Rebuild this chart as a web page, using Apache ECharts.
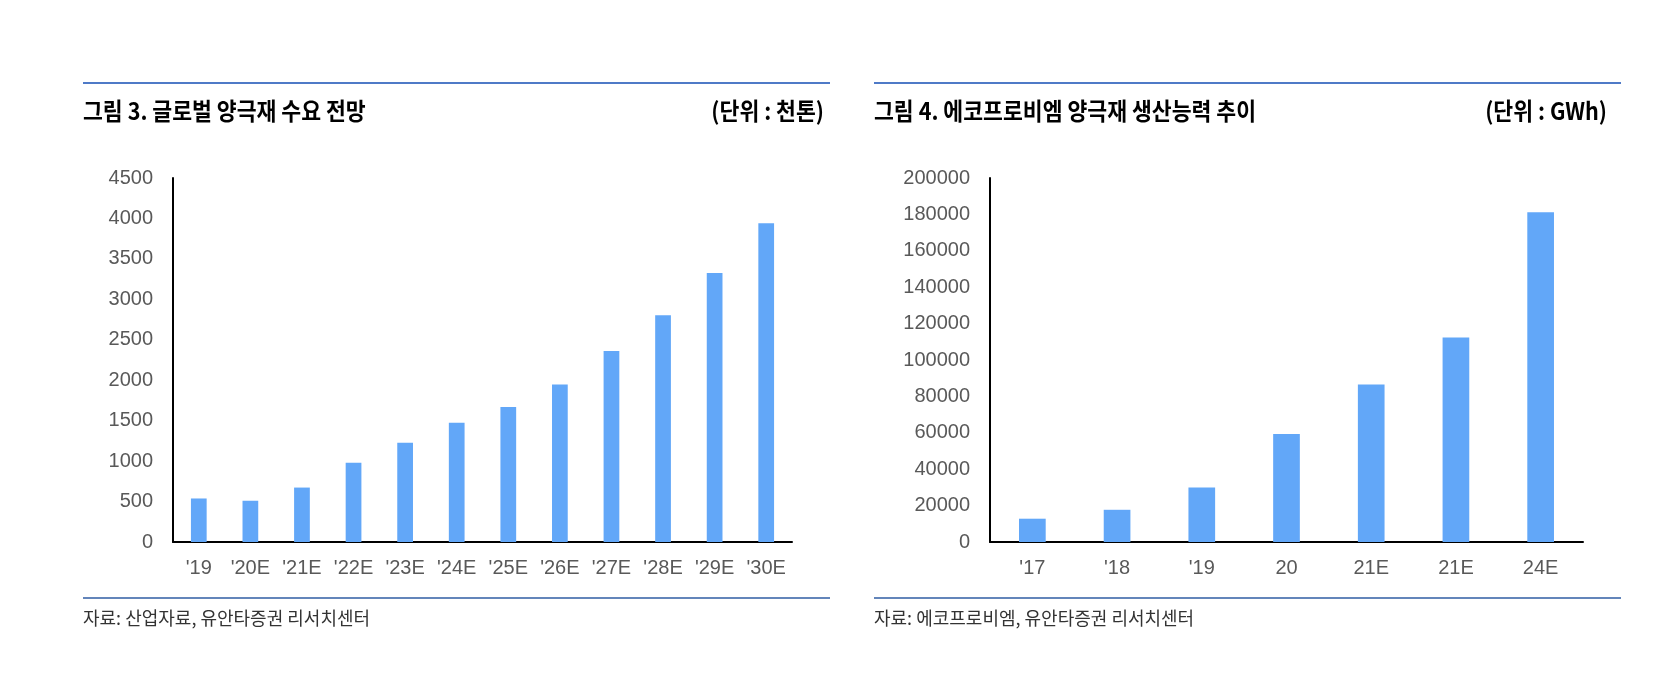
<!DOCTYPE html>
<html>
<head>
<meta charset="utf-8">
<script src="https://cdn.jsdelivr.net/npm/echarts@6/dist/echarts.min.js"></script>
<style>
  html, body { margin: 0; padding: 0; background: #fff; }
  #chart { width: 1672px; height: 686px; }
</style>
</head>
<body>
<div id="chart"></div>
<script>
// 그림 3. 글로벌 양극재 수요 전망 (천톤)
let demandYears = ["'19", "'20E", "'21E", "'22E", "'23E", "'24E", "'25E", "'26E", "'27E", "'28E", "'29E", "'30E"]
let demandValues = [538, 510, 673, 980, 1226, 1475, 1668, 1947, 2360, 2802, 3326, 3941]

// 그림 4. 에코프로비엠 양극재 생산능력 추이 (GWh)
let capaYears = ["'17", "'18", "'19", '20', '21E', '21E', '24E']
let capaValues = [12800, 17700, 30000, 59400, 86500, 112400, 181200]

let barColor = '#62a7f8'
let labelFont = '"Liberation Sans", Arial, sans-serif'
let krFont = '"Noto Sans CJK KR", sans-serif'

let chart = echarts.init(document.getElementById('chart'))

function textEl(x, y, text, opt) {
  opt = opt || {}
  return {
    type: 'text',
    x: x,
    y: y,
    scaleX: opt.scaleX || 1,
    style: {
      text: text,
      font: opt.font,
      fill: opt.fill || '#000',
      textAlign: opt.align || 'left',
      textVerticalAlign: 'middle'
    }
  }
}

function lineEl(x1, x2, y, color) {
  return {
    type: 'line',
    shape: { x1: x1, y1: y, x2: x2, y2: y },
    style: { stroke: color, lineWidth: 2 }
  }
}

// 축 공통 스타일 (눈금선 없음, 천단위 콤마 없음)
let axisCommon = {
  axisLine: { show: true, onZero: false, lineStyle: { color: '#000', width: 2 } },
  axisTick: { show: false },
  splitLine: { show: false },
  axisLabel: { color: '#595959', fontSize: 20, fontFamily: labelFont }
}

function plainNum(v) {
  return String(v)
}

chart.setOption({
  animation: false,
  grid: [
    { left: 173, top: 178, width: 619, height: 364 },
    { left: 990, top: 178, width: 593, height: 364 }
  ],
  xAxis: [
    Object.assign({}, axisCommon, {
      type: 'category', gridIndex: 0, data: demandYears,
      axisLabel: Object.assign({}, axisCommon.axisLabel, { margin: 16, interval: 0 })
    }),
    Object.assign({}, axisCommon, {
      type: 'category', gridIndex: 1, data: capaYears,
      axisLabel: Object.assign({}, axisCommon.axisLabel, { margin: 16, interval: 0 })
    })
  ],
  yAxis: [
    Object.assign({}, axisCommon, {
      type: 'value', gridIndex: 0, min: 0, max: 4500, interval: 500,
      axisLabel: Object.assign({}, axisCommon.axisLabel, { margin: 20, formatter: plainNum })
    }),
    Object.assign({}, axisCommon, {
      type: 'value', gridIndex: 1, min: 0, max: 200000, interval: 20000,
      axisLabel: Object.assign({}, axisCommon.axisLabel, { margin: 20, formatter: plainNum })
    })
  ],
  series: [
    {
      type: 'bar', xAxisIndex: 0, yAxisIndex: 0,
      data: demandValues, barWidth: '30.5%',
      itemStyle: { color: barColor }
    },
    {
      type: 'bar', xAxisIndex: 1, yAxisIndex: 1,
      data: capaValues, barWidth: '31.5%',
      itemStyle: { color: barColor }
    }
  ],
  graphic: [
    lineEl(83, 830, 83, '#4f7ac7'),
    lineEl(874, 1621, 83, '#4f7ac7'),
    lineEl(83, 830, 598, '#6385ba'),
    lineEl(874, 1621, 598, '#6385ba'),
    textEl(83, 111, '그림 3. 글로벌 양극재 수요 전망', { font: 'bold 24px ' + krFont, scaleX: 0.9 }),
    textEl(824, 111, '(단위 : 천톤)', { font: 'bold 24px ' + krFont, scaleX: 0.9, align: 'right' }),
    textEl(874, 111, '그림 4. 에코프로비엠 양극재 생산능력 추이', { font: 'bold 24px ' + krFont, scaleX: 0.9 }),
    textEl(1607, 111, '(단위 : GWh)', { font: 'bold 24px ' + krFont, scaleX: 0.9, align: 'right' }),
    textEl(83, 618, '자료: 산업자료, 유안타증권 리서치센터', { font: '18px ' + krFont, fill: '#333' }),
    textEl(874, 618, '자료: 에코프로비엠, 유안타증권 리서치센터', { font: '18px ' + krFont, fill: '#333' })
  ]
})
</script>
</body>
</html>
